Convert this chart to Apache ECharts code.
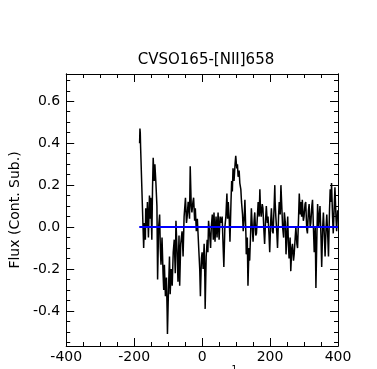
<!DOCTYPE html>
<html>
<head>
<meta charset="utf-8">
<script src="https://cdn.jsdelivr.net/npm/echarts@6/dist/echarts.min.js"></script>
<style>
  html, body { margin: 0; padding: 0; background: #fff; }
  #chart { width: 377px; height: 369px; }
</style>
</head>
<body>
<div id="chart"></div>
<script>
// velocity (km/s) and continuum-subtracted flux
const velocity = [
  -184, -183, -182, -181, -172, -170, -167, -166, -163, -161, -158, -155, -153, -151, -148, -146,
  -144, -141, -139, -136, -133, -131, -128, -125, -123, -121, -118, -115, -113, -111, -108, -105,
  -103, -102, -99, -96, -94, -91, -88, -85, -82, -79, -77, -74, -71, -68, -66, -63,
  -59, -56, -53, -49, -46, -44, -41, -37, -35, -32, -30, -27, -25, -22, -20, -17,
  -14, -10, -7, -5, -2, 0, 3, 6, 8, 9, 12, 15, 17, 19, 22, 25,
  27, 30, 33, 35, 38, 41, 44, 47, 50, 53, 56, 59, 62, 64, 67, 70,
  73, 75, 77, 80, 82, 85, 87, 89, 91, 94, 97, 99, 102, 104, 106, 109,
  111, 114, 116, 119, 121, 124, 126, 129, 130, 133, 135, 138, 140, 143, 145, 148,
  150, 153, 155, 158, 160, 163, 165, 168, 170, 172, 174, 177, 179, 182, 184, 187,
  189, 192, 194, 197, 199, 202, 204, 207, 209, 212, 214, 215, 217, 220, 222, 225,
  227, 230, 232, 235, 237, 240, 242, 245, 247, 250, 252, 254, 256, 259, 261, 264,
  266, 269, 271, 274, 276, 279, 281, 284, 286, 289, 291, 293, 295, 298, 300, 303,
  305, 308, 310, 313, 315, 318, 320, 323, 325, 328, 330, 333, 335, 338, 340, 343,
  347, 350, 352, 355, 357, 360, 362, 365, 367, 370, 372, 375, 377, 380, 381, 384,
  386, 389, 391, 394, 396, 399
];
const flux = [
  0.40, 0.47, 0.45, 0.38, -0.10, 0.02, -0.06, 0.09, 0.00, 0.12, -0.05, 0.15, 0.04, 0.14, -0.06, 0.18,
  0.33, 0.22, 0.30, 0.21, 0.10, -0.25, 0.00, 0.06, -0.10, -0.18, -0.05, -0.22, -0.30, -0.18, -0.33, -0.24,
  -0.40, -0.51, -0.30, -0.14, -0.32, -0.20, -0.28, -0.12, -0.06, -0.22, 0.03, -0.10, -0.26, -0.04, -0.28, -0.08,
  -0.02, -0.14, 0.05, 0.14, 0.02, 0.05, 0.12, 0.04, 0.29, 0.10, 0.07, 0.12, 0.14, 0.03, 0.09, -0.02,
  0.04, -0.10, -0.20, -0.33, -0.15, -0.12, -0.20, -0.08, -0.24, -0.39, -0.14, -0.06, -0.12, 0.03, -0.03, -0.10,
  0.00, 0.06, -0.06, 0.07, -0.07, 0.05, -0.05, 0.07, -0.06, 0.05, 0.02, 0.05, -0.10, -0.19, 0.00, 0.05,
  0.16, 0.04, 0.12, 0.03, -0.07, 0.12, 0.22, 0.17, 0.28, 0.22, 0.30, 0.34, 0.28, 0.30, 0.24, 0.27,
  0.21, 0.18, 0.12, 0.06, -0.02, 0.05, 0.13, -0.04, -0.13, -0.05, -0.28, -0.10, -0.16, -0.02, 0.09, -0.01,
  -0.07, 0.03, 0.07, -0.04, -0.03, 0.06, 0.12, 0.05, 0.18, 0.08, 0.05, 0.11, 0.09, -0.02, -0.08, 0.04,
  0.10, 0.02, 0.05, -0.04, -0.12, 0.03, 0.09, -0.02, -0.03, 0.10, 0.20, 0.12, 0.05, -0.03, -0.10, 0.05,
  0.12, 0.06, 0.20, 0.08, 0.00, -0.05, 0.07, 0.02, -0.13, -0.02, 0.05, -0.08, -0.15, -0.05, -0.21, -0.10,
  -0.08, -0.16, -0.13, -0.05, 0.00, -0.08, -0.10, 0.05, 0.16, 0.06, 0.12, 0.05, 0.13, 0.03, 0.05, 0.11,
  0.12, -0.01, -0.03, 0.08, 0.11, 0.00, 0.02, 0.10, 0.13, -0.02, -0.12, 0.00, -0.29, -0.03, 0.11, 0.00,
  0.10, -0.05, -0.19, 0.00, 0.07, -0.05, -0.14, 0.00, 0.06, -0.05, -0.14, 0.08, 0.18, 0.12, 0.21, 0.05,
  -0.03, 0.10, 0.19, 0.05, -0.02, 0.08
];
// continuum fit (flat at zero)
const contVel = [-185, 400];
const contFlux = [0, 0];

// axis ticks
const yMajor = [-0.4, -0.2, 0, 0.2, 0.4, 0.6];
const yMinor = [-0.55, -0.5, -0.45, -0.35, -0.3, -0.25, -0.15, -0.1, -0.05,
  0.05, 0.1, 0.15, 0.25, 0.3, 0.35, 0.45, 0.5, 0.55, 0.65, 0.7];

const font = 'DejaVu Sans';
const yMin = -0.567, yMax = 0.73;

const chart = echarts.init(document.getElementById('chart'));

const xAxisBase = (pos, showLabel) => ({
  type: 'value',
  position: pos,
  min: -400,
  max: 400,
  interval: 200,
  axisLine: { show: true, onZero: false, lineStyle: { color: '#000', width: 1 } },
  axisTick: { show: true, inside: true, length: 8, lineStyle: { color: '#000' } },
  minorTick: { show: true, splitNumber: 4, length: 4, lineStyle: { color: '#000' } },
  axisLabel: { show: showLabel, color: '#000', fontFamily: font, fontSize: 14, margin: 4 },
  splitLine: { show: false }
});

const yAxisBase = (pos, ticks, len, showLabel) => ({
  type: 'value',
  position: pos,
  min: yMin,
  max: yMax,
  axisLine: { show: true, onZero: false, lineStyle: { color: '#000', width: 1 } },
  axisTick: { show: true, inside: true, length: len, customValues: ticks, lineStyle: { color: '#000' } },
  axisLabel: {
    show: showLabel, customValues: ticks, color: '#000', fontFamily: font, fontSize: 14, margin: 6,
    formatter: v => v.toFixed(1)
  },
  splitLine: { show: false }
});

const yLeft = yAxisBase('left', yMajor, 8, true);
yLeft.name = 'Flux (Cont. Sub.)';
yLeft.nameLocation = 'middle';
yLeft.nameGap = 38;
yLeft.nameTextStyle = { color: '#000', fontFamily: font, fontSize: 14 };

chart.setOption({
  animation: false,
  backgroundColor: '#fff',
  title: {
    text: 'CVSO165-[NII]658',
    left: 201,
    top: 48,
    textAlign: 'center',
    textStyle: { color: '#000', fontFamily: font, fontSize: 15, fontWeight: 'normal' }
  },
  grid: { left: 65, right: 39, top: 74, bottom: 23, containLabel: false },
  xAxis: [xAxisBase('bottom', true), xAxisBase('top', false)],
  yAxis: [
    yLeft,
    yAxisBase('left', yMinor, 4, false),
    yAxisBase('right', yMajor, 8, false),
    yAxisBase('right', yMinor, 4, false)
  ],
  graphic: [{
    type: 'text',
    left: 224,
    top: 365,
    style: { text: '\u22121', fill: '#000', font: '9px "DejaVu Sans"' }
  }],
  series: [
    {
      type: 'line',
      data: velocity.map((v, i) => [v, flux[i]]),
      showSymbol: false,
      lineStyle: { color: '#000', width: 1.5 },
      z: 2
    },
    {
      type: 'line',
      data: contVel.map((v, i) => [v, contFlux[i]]),
      showSymbol: false,
      lineStyle: { color: '#0000ff', width: 2 },
      z: 3
    }
  ]
});
</script>
</body>
</html>
